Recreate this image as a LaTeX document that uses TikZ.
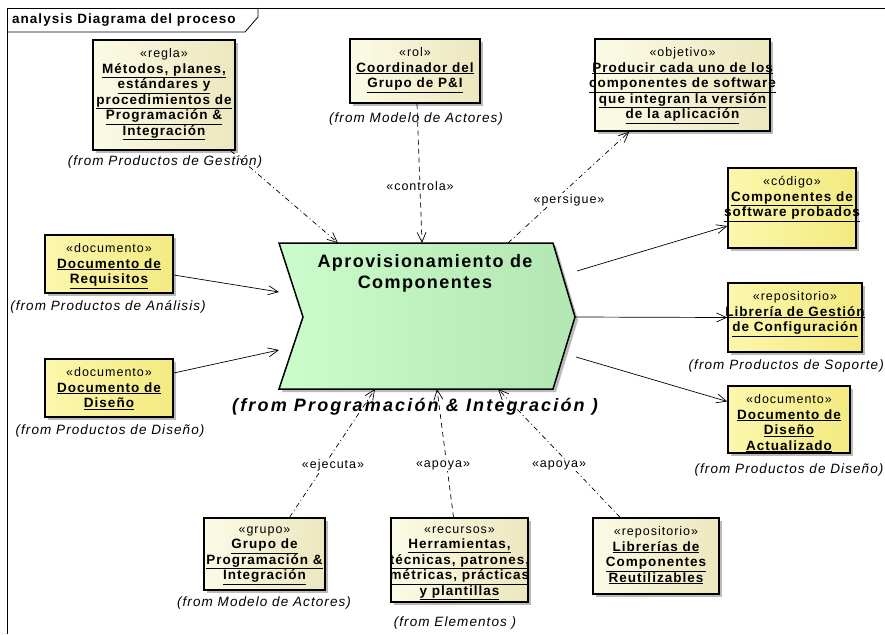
\documentclass[tikz,border=0pt]{standalone}
\usepackage{fontspec}
\setmainfont{Liberation Sans}
\newfontfamily\spaced{Liberation Sans}[LetterSpace=8]
\newfontfamily\widespaced{Liberation Sans}[LetterSpace=7.5]
\newfontfamily\bigspaced{Liberation Sans}[LetterSpace=12]
\usetikzlibrary{arrows.meta,shadows}

\definecolor{creamL}{HTML}{FBFBE6}
\definecolor{creamR}{HTML}{ECE7BE}
\definecolor{yelL}{HTML}{FCF7AC}
\definecolor{yelR}{HTML}{F3EA80}
\definecolor{procL}{HTML}{CCFCCC}
\definecolor{procR}{HTML}{B2E6B2}

% stereotype line and underlined element name inside a classifier box
\newcommand\stereo[1]{{\spaced\fontsize{12.5}{15.5}\selectfont #1}}
\newcommand\nm[1]{\underline{\widespaced\bfseries #1}}

\tikzset{
  umlbox/.style={draw, rectangle, line width=1.5pt, inner sep=0pt,
    drop shadow={shadow xshift=3pt, shadow yshift=-3pt, fill=black!45, opacity=0.6}},
  creambox/.style={umlbox, left color=creamL, right color=creamR},
  yelbox/.style={umlbox, left color=yelL, right color=yelR},
  boxtxt/.style={align=center, inner sep=0pt, anchor=north, yshift=-9pt,
    font=\widespaced\fontsize{13.5}{15.5}\selectfont},
  fromlbl/.style={font=\spaced\itshape\fontsize{13.5}{16}\selectfont, inner sep=0pt},
  steolbl/.style={font=\spaced\fontsize{12.5}{15}\selectfont, fill=white, inner sep=1.5pt},
  dep/.style={line width=0.7pt, -{Straight Barb[length=10pt,width=9pt]}},
  dashdot/.style={dash pattern=on 5pt off 3pt on 1pt off 3pt},
  dashd/.style={dash pattern=on 5pt off 4pt},
}

\begin{document}
\begin{tikzpicture}[x=1pt, y=-1pt]
\useasboundingbox (0,0) rectangle (885,634);

% diagram frame with its name tab
\draw[line width=0.8pt] (7,634) -- (7,8) -- (885,8);
\draw[line width=0.8pt] (7,32) -- (245,32) -- (258,17) -- (258,8);
\node[font=\widespaced\bfseries\fontsize{13.5}{15}\selectfont, anchor=west, inner sep=0pt]
  (frametitle) at (12,20) {analysis Diagrama del proceso};

% process element
\coordinate (p1) at (279,243);
\coordinate (p2) at (553,243);
\coordinate (p3) at (575,317);
\coordinate (p4) at (553,389);
\coordinate (p5) at (279,389);
\coordinate (p6) at (303,317);
\fill[black!45, opacity=0.6] ([shift={(3,3)}]p1) -- ([shift={(3,3)}]p2) -- ([shift={(3,3)}]p3)
  -- ([shift={(3,3)}]p4) -- ([shift={(3,3)}]p5) -- ([shift={(3,3)}]p6) -- cycle;
\path[draw, line width=1.5pt, left color=procL, right color=procR]
  (p1) -- (p2) -- (p3) -- (p4) -- (p5) -- (p6) -- cycle;
\node[align=center, inner sep=0pt, font=\spaced\bfseries\fontsize{18}{21}\selectfont]
  (proctitle) at (425,273) {Aprovisionamiento de\\Componentes};
\node[font=\bigspaced\bfseries\itshape\fontsize{18}{21}\selectfont, inner sep=0pt]
  (procfrom) at (415,407) {(from Programación \& Integración )};

% connection points on the process element
\coordinate (pa) at (338,243);
\coordinate (pb) at (422,243);
\coordinate (pc) at (508,243);
\coordinate (pd) at (279,292);
\coordinate (pe) at (279,350);
\coordinate (pf) at (577,271);
\coordinate (pg) at (575,317);
\coordinate (ph) at (576,357);
\coordinate (pi) at (375,389);
\coordinate (pj) at (437,389);
\coordinate (pk) at (498,389);

% classifier boxes
\node[creambox, minimum width=142pt, minimum height=110pt,
  label={[boxtxt]north:{\stereo{«regla»}\\\nm{Métodos, planes,}\\\nm{estándares y}\\
    \nm{procedimientos de}\\\nm{Programación \&}\\\nm{Integración}}}] (regla) at (164,95) {};
\node[fromlbl] (reglafrom) at (165,162) {(from Productos de Gestión)};

\node[creambox, minimum width=130pt, minimum height=64pt,
  label={[boxtxt]north:{\stereo{«rol»}\\\nm{Coordinador del}\\\nm{Grupo de P\&I}}}] (rol) at (415,71) {};
\node[fromlbl] (rolfrom) at (416,119) {(from Modelo de Actores)};

\node[creambox, minimum width=175pt, minimum height=92pt,
  label={[boxtxt]north:{\stereo{«objetivo»}\\\nm{Producir cada uno de los}\\
    \nm{componentes de software}\\\nm{que integran la versión}\\\nm{de la aplicación}}}] (objetivo) at (682.5,85) {};

\node[yelbox, minimum width=128pt, minimum height=80pt,
  label={[boxtxt]north:{\stereo{«código»}\\\nm{Componentes de}\\\nm{software probados}}}] (codigo) at (792,208) {};

\node[yelbox, minimum width=128pt, minimum height=58pt,
  label={[boxtxt]north:{\stereo{«documento»}\\\nm{Documento de}\\\nm{Requisitos}}}] (requisitos) at (109,264) {};
\node[fromlbl] (requisitosfrom) at (108,307) {(from Productos de Análisis)};

\node[yelbox, minimum width=128pt, minimum height=58pt,
  label={[boxtxt]north:{\stereo{«documento»}\\\nm{Documento de}\\\nm{Diseño}}}] (diseno) at (109,388) {};
\node[fromlbl] (disenofrom) at (110,431) {(from Productos de Diseño)};

\node[yelbox, minimum width=134pt, minimum height=69pt,
  label={[boxtxt]north:{\stereo{«repositorio»}\\\nm{Librería de Gestión}\\\nm{de Configuración}}}] (libgestion) at (795,317.5) {};
\node[fromlbl, anchor=east] (libgestionfrom) at (884,366) {(from Productos de Soporte)};

\node[yelbox, minimum width=122pt, minimum height=67pt,
  label={[boxtxt]north:{\stereo{«documento»}\\\nm{Documento de}\\\nm{Diseño}\\\nm{Actualizado}}}] (disenoact) at (789,419.5) {};
\node[fromlbl] (disenoactfrom) at (789,470) {(from Productos de Diseño)};

\node[creambox, minimum width=121pt, minimum height=72pt,
  label={[boxtxt]north:{\stereo{«grupo»}\\\nm{Grupo de}\\\nm{Programación \&}\\\nm{Integración}}}] (grupo) at (264.5,554) {};
\node[fromlbl] (grupofrom) at (264,603) {(from Modelo de Actores)};

\node[creambox, minimum width=137pt, minimum height=84pt,
  label={[boxtxt]north:{\stereo{«recursos»}\\\nm{Herramientas,}\\\nm{técnicas, patrones,}\\
    \nm{métricas, prácticas}\\\nm{y plantillas}}}] (recursos) at (459.5,560) {};
\node[fromlbl] (recursosfrom) at (455,623) {(from Elementos )};

\node[creambox, minimum width=126pt, minimum height=76pt,
  label={[boxtxt]north:{\stereo{«repositorio»}\\\nm{Librerías de}\\\nm{Componentes}\\\nm{Reutilizables}}}] (librerias) at (656,556) {};

% dependencies
\draw[dep, dashdot] ([xshift=-5pt]regla.south east) -- (pa);
\draw[dep, dashd] ([xshift=2pt]rol.south) -- (pb);
\draw[dep, dashdot] (pc) -- ([xshift=35pt]objetivo.south west);
\draw[dep] ([yshift=-11pt]requisitos.east) -- (pd);
\draw[dep] ([yshift=15pt]diseno.east) -- (pe);
\draw[dep] (pf) -- ([yshift=-18pt]codigo.west);
\draw[dep] (pg) -- (libgestion.west);
\draw[dep] (ph) -- ([yshift=18pt]disenoact.west);
\draw[dep, dashdot] ([xshift=25pt]grupo.north) -- (pi);
\draw[dep, dashd] ([xshift=-6pt]recursos.north) -- (pj);
\draw[dep, dashdot] ([xshift=-36pt]librerias.north) -- (pk);

% dependency stereotypes
\node[steolbl] (lcontrola) at (420,186) {«controla»};
\node[steolbl] (lpersigue) at (569,200) {«persigue»};
\node[steolbl] (lejecuta) at (333,465) {«ejecuta»};
\node[steolbl] (lapoya) at (443,465) {«apoya»};
\node[steolbl] (lapoyab) at (559,465) {«apoya»};
\end{tikzpicture}
\end{document}
